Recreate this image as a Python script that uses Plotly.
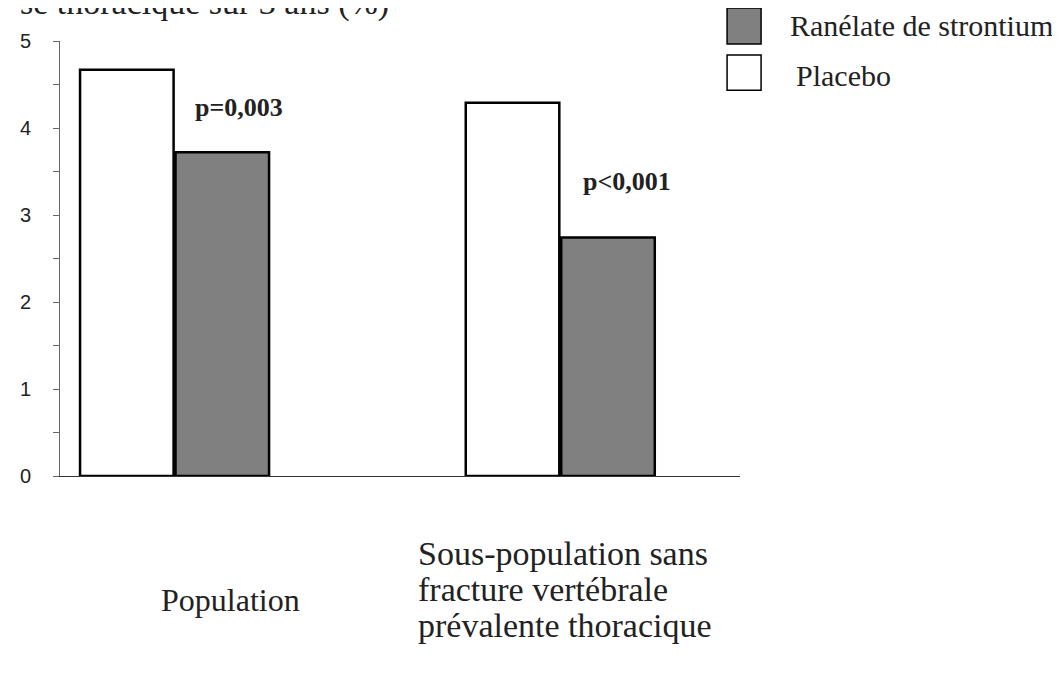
import plotly.graph_objects as go

# données
groupes = ["Population", "Sous-population"]
placebo = [4.67, 4.29]
strontium = [3.72, 2.74]
p_values = ["p=0,003", "p<0,001"]
p_y = [4.23, 3.39]
etiquettes = [["Population"],
              ["Sous-population sans", "fracture vertébrale", "prévalente thoracique"]]

SERIF = "Liberation Serif, Times New Roman, serif"
SANS = "Liberation Sans, Arial, sans-serif"

fig = go.Figure()
fig.add_trace(go.Bar(x=groupes, y=placebo, name="Placebo",
                     marker=dict(color="white", line=dict(color="black", width=2.5))))
fig.add_trace(go.Bar(x=groupes, y=strontium, name="Ranélate de strontium",
                     marker=dict(color="#808080", line=dict(color="black", width=2.5))))

# p-values au-dessus des barres strontium
for g, txt, v, dx in zip(groupes, p_values, p_y, [64, 67]):
    fig.add_annotation(x=g, y=v, text=f"<b>{txt}</b>", showarrow=False,
                       xanchor="center", yanchor="middle", xshift=dx,
                       font=dict(family=SERIF, size=26, color="#222"))

# étiquettes de catégories sous l'axe (une annotation par ligne)
decalages = [[-124], [-77, -113, -149]]
tailles = [32, 34]
for g, lignes, dys, dx, t in zip(groupes, etiquettes, decalages, [-16, -144], tailles):
    for txt, dy in zip(lignes, dys):
        fig.add_annotation(x=g, y=0, yref="paper", text=txt, showarrow=False,
                           xanchor="left", yanchor="middle", xshift=dx, yshift=dy,
                           font=dict(family=SERIF, size=t, color="#222"))

# titre coupé en haut
fig.add_annotation(x=0, y=1, xref="paper", yref="paper", xanchor="left",
                   yanchor="middle", xshift=-42, yshift=38, showarrow=False,
                   text="se thoracique sur 3 ans (%)",
                   font=dict(family=SERIF, size=34, color="#222"))

# légende dessinée à la main
legende = [("Ranélate de strontium", "#808080", 1.076, 0.993, 1.071, 0),
           ("Placebo", "white", 0.968, 0.887, 1.079, -3)]
for nom, couleur, y1, y0, xt, dy in legende:
    fig.add_shape(type="rect", xref="paper", yref="paper", x0=0.981, x1=1.031,
                  y0=y0, y1=y1, fillcolor=couleur, line=dict(color="black", width=1.5))
    fig.add_annotation(x=xt, y=(y0 + y1) / 2, xref="paper", yref="paper",
                       xanchor="left", yanchor="middle", showarrow=False, text=nom,
                       yshift=dy, font=dict(family=SERIF, size=30, color="#222"))

# la page ajoute une marge de 8 px : on la compense
fig.update_layout(
    width=1060, height=676,
    margin=dict(l=32, r=328, t=33, b=208),
    plot_bgcolor="white", paper_bgcolor="white",
    showlegend=False,
    barmode="group", bargap=0.505, bargroupgap=0.02,
    xaxis=dict(range=[-0.297, 1.466], showticklabels=False, ticks="",
               showline=True, linecolor="#333", linewidth=1, showgrid=False,
               zeroline=False),
    yaxis=dict(range=[0, 5], tickvals=[0, 0.5, 1, 1.5, 2, 2.5, 3, 3.5, 4, 4.5, 5],
               ticktext=["0", "", "1", "", "2", "", "3", "", "4", "", "5"],
               ticks="outside", ticklen=6, tickcolor="#666", showline=True,
               linecolor="#666", linewidth=1, showgrid=False, zeroline=False,
               tickfont=dict(family=SANS, size=20, color="#222"), ticklabelstandoff=18),
)

fig.write_html("out.html")
